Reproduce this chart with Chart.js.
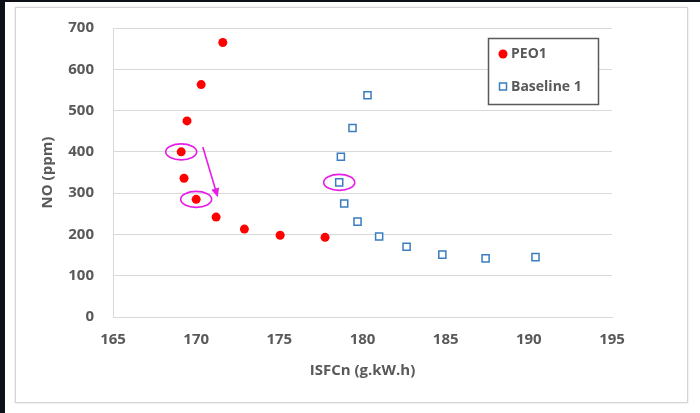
<!DOCTYPE html>
<html>
<head>
<meta charset="utf-8">
<script src="https://cdn.jsdelivr.net/npm/chart.js@4.4.1/dist/chart.umd.min.js"></script>
<style>
    html, body { margin: 0; padding: 0; background: #fff; }
    body { width: 700px; height: 413px; position: relative; overflow: hidden; }
    .edge-top { position: absolute; left: 0; top: 0; width: 700px; height: 2px; background: #0d1117; }
    .edge-left { position: absolute; left: 0; top: 0; width: 5px; height: 413px; background: #0d1117; }
    .card { position: absolute; left: 15px; top: 7px; width: 671px; height: 394px;
            border: 1px solid #d4d4d4; box-shadow: 0 0 2px rgba(0,0,0,0.15); }
    canvas { position: absolute; left: 0; top: 0; }
</style>
</head>
<body>
<div class="edge-top"></div>
<div class="edge-left"></div>
<div class="card"></div>
<canvas id="chart-no" width="700" height="413"></canvas>

<script>
// ── Data ────────────────────────────────────────────────────────────────
const peoLabel = 'PEO1';
const peoX = [171.6, 170.3, 169.45, 169.1, 169.27, 170.0, 171.2, 172.9, 175.05, 177.75];
const peoY = [665, 563, 475, 400, 336, 285, 242, 213, 198, 193];

const baseLabel = 'Baseline 1';
const baseX = [180.3, 179.4, 178.7, 178.6, 178.9, 179.7, 181.0, 182.65, 184.8, 187.4, 190.4];
const baseY = [537, 458, 388, 326, 275, 231, 195, 170, 151, 142, 145];

const xRange = [165, 195];
const yRange = [0, 700];

// highlighted points: [dataset index, point index]
const circled = [[0, 3], [0, 5], [1, 3]];
// arrow in data units: from -> to
const arrowFrom = [170.4, 412];
const arrowTo = [171.3, 290];

const TEXT = '#595959';
const GRID = '#d9d9d9';
const FONT = "'Open Sans', sans-serif";

const toPoints = (xs, ys) => xs.map((x, i) => ({ x, y: ys[i] }));

// ── Annotations + legend box ────────────────────────────────────────────
const overlayPlugin = {
    id: 'overlay',
    afterDatasetsDraw(chart) {
        const { ctx, scales: { x, y } } = chart;
        ctx.save();
        ctx.strokeStyle = '#e81ce8';
        ctx.lineWidth = 1.6;
        circled.forEach(([d, i]) => {
            const p = chart.data.datasets[d].data[i];
            ctx.beginPath();
            ctx.ellipse(x.getPixelForValue(p.x), y.getPixelForValue(p.y), 15.5, 8, 0, 0, Math.PI * 2);
            ctx.stroke();
        });

        const x1 = x.getPixelForValue(arrowFrom[0]), y1 = y.getPixelForValue(arrowFrom[1]);
        const x2 = x.getPixelForValue(arrowTo[0]), y2 = y.getPixelForValue(arrowTo[1]);
        const ang = Math.atan2(y2 - y1, x2 - x1);
        ctx.beginPath();
        ctx.moveTo(x1, y1);
        ctx.lineTo(x2 - 6 * Math.cos(ang), y2 - 6 * Math.sin(ang));
        ctx.stroke();
        ctx.fillStyle = '#e81ce8';
        ctx.beginPath();
        ctx.moveTo(x2, y2);
        ctx.lineTo(x2 - 9 * Math.cos(ang) + 4 * Math.sin(ang), y2 - 9 * Math.sin(ang) - 4 * Math.cos(ang));
        ctx.lineTo(x2 - 9 * Math.cos(ang) - 4 * Math.sin(ang), y2 - 9 * Math.sin(ang) + 4 * Math.cos(ang));
        ctx.closePath();
        ctx.fill();

        // legend box
        ctx.fillStyle = '#fff';
        ctx.fillRect(488, 38, 110, 66);
        ctx.strokeStyle = '#5a5a5a';
        ctx.lineWidth = 1.5;
        ctx.strokeRect(488.5, 38.5, 110, 66);

        ctx.fillStyle = '#ff0000';
        ctx.beginPath();
        ctx.arc(503, 54, 4.5, 0, Math.PI * 2);
        ctx.fill();
        ctx.strokeStyle = '#3a7dc0';
        ctx.lineWidth = 1.5;
        ctx.strokeRect(499.5, 83, 7, 7);

        ctx.fillStyle = TEXT;
        ctx.font = `bold 14px ${FONT}`;
        ctx.textBaseline = 'middle';
        ctx.fillText(peoLabel, 511, 54);
        ctx.fillText(baseLabel, 511, 87);
        ctx.restore();
    },
};

new Chart(document.getElementById('chart-no'), {
    type: 'scatter',
    data: {
        datasets: [{
            label: peoLabel,
            data: toPoints(peoX, peoY),
            pointStyle: 'circle',
            pointRadius: 4.5,
            backgroundColor: '#ff0000',
            borderColor: '#ff0000',
            borderWidth: 0,
        }, {
            label: baseLabel,
            data: toPoints(baseX, baseY),
            pointStyle: 'rect',
            pointRadius: 5,
            backgroundColor: '#ffffff',
            borderColor: '#3a7dc0',
            borderWidth: 1.5,
        }],
    },
    options: {
        responsive: false,
        animation: false,
        layout: { padding: { left: 35, top: 25, right: 88, bottom: 29 } },
        scales: {
            x: {
                type: 'linear',
                min: xRange[0],
                max: xRange[1],
                afterFit(scale) { scale.height = 67; },
                grid: { color: 'rgba(0,0,0,0)', drawTicks: false },
                border: { display: true, color: GRID, width: 1 },
                ticks: { stepSize: 5, padding: 14, color: TEXT, font: { family: FONT, size: 15, weight: 'bold' } },
                title: { display: true, text: 'ISFCn (g.kW.h)', color: TEXT, font: { family: FONT, size: 15, weight: 'bold' } },
            },
            y: {
                min: yRange[0],
                max: yRange[1],
                afterFit(scale) { scale.width = 78; },
                grid: { color: GRID, drawTicks: false },
                border: { display: true, color: GRID, width: 1 },
                ticks: { stepSize: 100, padding: 19, color: TEXT, font: { family: FONT, size: 15, weight: 'bold' } },
                title: { display: true, text: 'NO (ppm)', color: TEXT, font: { family: FONT, size: 15, weight: 'bold' } },
            },
        },
        plugins: {
            legend: { display: false },
            tooltip: { enabled: false },
        },
    },
    plugins: [overlayPlugin],
});
</script>
</body>
</html>
